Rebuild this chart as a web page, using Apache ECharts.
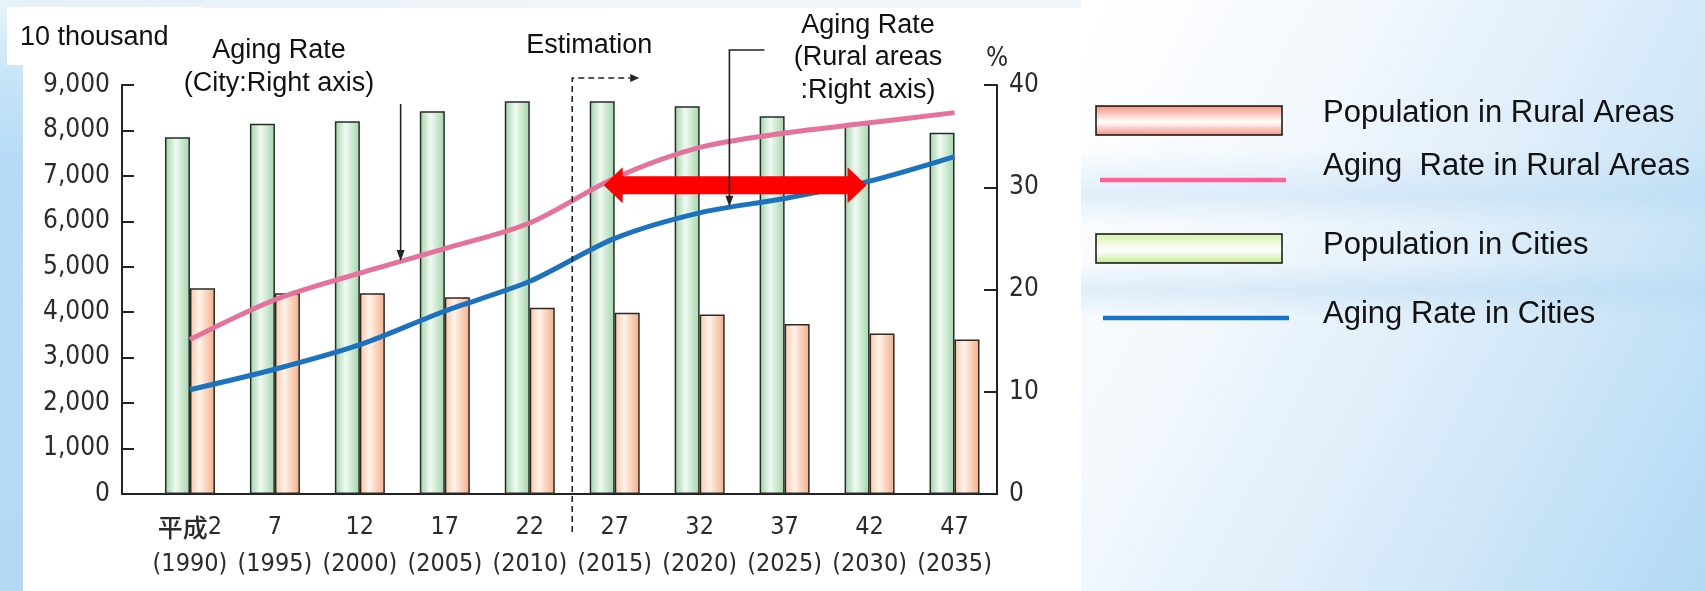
<!DOCTYPE html>
<html>
<head>
<meta charset="utf-8">
<script src="https://cdn.jsdelivr.net/npm/echarts@6/dist/echarts.min.js"></script>
<style>
  html, body { margin: 0; padding: 0; width: 1705px; height: 591px; overflow: hidden; }
  body { position: relative; background: #e9f3fb; }
  #bgTop { position: absolute; left: 0; top: 0; width: 1705px; height: 8px;
           background: linear-gradient(90deg, #e4f0fa 0%, #f1f6fa 40%, #eef4f9 100%); }
  #bgLeft { position: absolute; left: 0; top: 0; width: 23px; height: 591px;
            background: linear-gradient(180deg, #e8f3fb 0px, #c9e5f8 70px, #b6dbf6 160px, #b3d9f5 591px); }
  #bgRight { position: absolute; left: 1081px; top: 0; width: 624px; height: 591px;
             background:
               linear-gradient(180deg, rgba(255,255,255,0) 150px, rgba(175,213,242,0.35) 195px, rgba(255,255,255,0) 225px,
                               rgba(255,255,255,0) 262px, rgba(175,213,242,0.35) 290px, rgba(255,255,255,0) 318px),
               linear-gradient(118deg, #ffffff 0%, #f3f8fd 30%, #d9ebf9 62%, #b2d9f5 100%); }
  #panel { position: absolute; left: 23px; top: 8px; width: 1058px; height: 583px; background: #ffffff; }
  #unitBox { position: absolute; left: 7px; top: 7px; width: 196px; height: 58px; background: #ffffff; }
  #chart { position: absolute; left: 0; top: 0; width: 1705px; height: 591px; }
</style>
</head>
<body>
<div id="bgTop"></div>
<div id="bgLeft"></div>
<div id="bgRight"></div>
<div id="panel"></div>
<div id="unitBox"></div>
<div id="chart"></div>
<script>
// Japanese era year labels and the matching Western years
const eraYears = ['平成2', '7', '12', '17', '22', '27', '32', '37', '42', '47'];
const westernYears = ['1990', '1995', '2000', '2005', '2010', '2015', '2020', '2025', '2030', '2035'];

// Population (10 thousand people)
const cityPopulation  = [7850, 8150, 8200, 8420, 8640, 8640, 8530, 8310, 8150, 7950];
const ruralPopulation = [4530, 4420, 4420, 4330, 4100, 3990, 3950, 3740, 3530, 3400];

// Aging rate (%)
const ruralAgingRate = [15.1, 19.0, 21.6, 24.0, 26.5, 30.9, 33.9, 35.3, 36.3, 37.3];
const cityAgingRate  = [10.2, 12.2, 14.6, 17.9, 20.8, 25.0, 27.5, 28.9, 30.6, 33.0];

// Axis ranges
const populationAxis = { min: 0, max: 9000, interval: 1000 };
const rateAxis = { min: 0, max: 40, interval: 10 };

// First projected year (index) for the estimation divider
const estimationStart = 5;

const NARROW = "'Liberation Sans Narrow', 'Arial Narrow', 'DejaVu Sans Condensed', sans-serif";
const SANS = "'Liberation Sans', Arial, sans-serif";
const CJK = "'Noto Sans CJK JP', 'Noto Sans CJK SC', sans-serif";

const idx = eraYears.map((_, i) => i);
const pairs = (arr) => arr.map((v, i) => [i, v]);

const greenBar = {
  type: 'linear', x: 0, y: 0, x2: 1, y2: 0,
  colorStops: [
    { offset: 0, color: '#9cd2a5' },
    { offset: 0.42, color: '#f1faf2' },
    { offset: 1, color: '#a0d6a9' }
  ]
};
const orangeBar = {
  type: 'linear', x: 0, y: 0, x2: 1, y2: 0,
  colorStops: [
    { offset: 0, color: '#f9c6a5' },
    { offset: 0.38, color: '#fff3ea' },
    { offset: 1, color: '#f3ad85' }
  ]
};

const chart = echarts.init(document.getElementById('chart'), null, { renderer: 'canvas' });

chart.setOption({
  backgroundColor: 'transparent',
  animation: false,
  grid: { left: 122, right: 708, top: 85, bottom: 97, containLabel: false },
  xAxis: {
    type: 'value', min: -0.8, max: 9.5,
    axisLine: { show: true, onZero: false, lineStyle: { color: '#222', width: 2 } },
    axisTick: { show: false },
    splitLine: { show: false },
    axisLabel: {
      show: true,
      customValues: idx,
      margin: 15,
      color: '#2b2b2b',
      fontFamily: NARROW,
      fontSize: 25,
      lineHeight: 37,
      formatter: (v) => {
        const i = Math.round(v);
        if (Math.abs(v - i) > 1e-6 || i < 0 || i >= eraYears.length) return '';
        const era = eraYears[i];
        const top = era.startsWith('平成') ? '{cjk|平成}' + era.slice(2) : era;
        return top + '\n(' + westernYears[i] + ')';
      },
      rich: {
        cjk: { fontFamily: CJK, fontSize: 25, fontWeight: 500, lineHeight: 37, color: '#2b2b2b' }
      }
    }
  },
  yAxis: [
    {
      type: 'value', position: 'left',
      min: populationAxis.min, max: populationAxis.max, interval: populationAxis.interval,
      axisLine: { show: true, onZero: false, lineStyle: { color: '#222', width: 2 } },
      axisTick: { show: true, inside: true, length: 12, lineStyle: { color: '#222', width: 2 } },
      splitLine: { show: false },
      axisLabel: {
        margin: 12, color: '#2b2b2b', fontFamily: NARROW, fontSize: 26,
        formatter: (v) => v.toLocaleString('en-US')
      }
    },
    {
      type: 'value', position: 'right',
      min: rateAxis.min, max: rateAxis.max, interval: rateAxis.interval,
      name: '%', nameLocation: 'end', nameGap: 12,
      nameTextStyle: { color: '#2b2b2b', fontFamily: NARROW, fontSize: 26 },
      axisLine: { show: true, onZero: false, lineStyle: { color: '#222', width: 2 } },
      axisTick: { show: true, inside: true, length: 13, lineStyle: { color: '#222', width: 2 } },
      splitLine: { show: false },
      axisLabel: { margin: 12, color: '#2b2b2b', fontFamily: NARROW, fontSize: 26 }
    }
  ],
  series: [
    {
      name: 'Population in Cities', type: 'bar', yAxisIndex: 0,
      data: pairs(cityPopulation), barWidth: 25, barGap: '0%',
      itemStyle: { color: greenBar, borderColor: '#2a2a2a', borderWidth: 1.5 }
    },
    {
      name: 'Population in Rural Areas', type: 'bar', yAxisIndex: 0,
      data: pairs(ruralPopulation), barWidth: 25, barGap: '0%',
      itemStyle: { color: orangeBar, borderColor: '#2a2a2a', borderWidth: 1.5 }
    },
    {
      name: 'Aging Rate in Rural Areas', type: 'line', yAxisIndex: 1,
      data: pairs(ruralAgingRate), smooth: 0.3, showSymbol: false, z: 4,
      lineStyle: { color: '#e5729c', width: 5 }
    },
    {
      name: 'Aging Rate in Cities', type: 'line', yAxisIndex: 1,
      data: pairs(cityAgingRate), smooth: 0.3, showSymbol: false, z: 4,
      lineStyle: { color: '#1d72c0', width: 5 }
    }
  ]
});

// Pixel helpers through the chart's own axes
const onLeft = (x, y) => chart.convertToPixel({ seriesIndex: 0 }, [x, y]);
const onRight = (x, y) => chart.convertToPixel({ seriesIndex: 2 }, [x, y]);

const gTop = onLeft(0, populationAxis.max)[1];
const gBottom = onLeft(0, 0)[1];
const divX = onLeft(estimationStart - 0.5, 0)[0];

const ink = '#222';
const tri = (pts) => ({ type: 'polygon', shape: { points: pts }, style: { fill: ink }, z: 20 });
const seg = (pts, dash) => ({
  type: 'polyline', shape: { points: pts },
  style: { stroke: ink, lineWidth: 1.6, fill: null, lineDash: dash || null }, z: 20
});
const label = (text, x, y, size, align) => ({
  type: 'text', z: 21,
  style: { text, x, y, fill: '#111', fontFamily: SANS, fontSize: size,
           align: align || 'center', verticalAlign: 'middle' }
});

// Double-headed arrow at the 30% level: rural reaches it in 2015, cities in 2030
const arrowLevel = 30.2;
const arrowY = onRight(0, arrowLevel)[1];
const aL = onRight(5, arrowLevel)[0] - 11;
const aR = onRight(8, arrowLevel)[0] - 3;
const sh = 9, hh = 18, hl = 19;
const redArrow = {
  type: 'polygon', z: 15,
  shape: { points: [
    [aL, arrowY], [aL + hl, arrowY - hh], [aL + hl, arrowY - sh],
    [aR - hl, arrowY - sh], [aR - hl, arrowY - hh], [aR, arrowY],
    [aR - hl, arrowY + hh], [aR - hl, arrowY + sh], [aL + hl, arrowY + sh],
    [aL + hl, arrowY + hh]
  ] },
  style: { fill: '#ff0000' }
};

// Leader for the left callout
const lx = onLeft(2.48, 0)[0];
const lTip = onRight(2.48, 22.6)[1] - 2;
// Leader for the right callout
const rx = onLeft(6.35, 0)[0];
const rTip = onRight(6.35, 27.9)[1] - 2;

const dashTop = gTop - 7;

// Legend geometry
const LG = { boxX: 1096, boxW: 186, textX: 1323 };
const legendRect = (y, c1, c2, c3) => ({
  type: 'rect', z: 20,
  shape: { x: LG.boxX, y, width: LG.boxW, height: 29 },
  style: {
    fill: { type: 'linear', x: 0, y: 0, x2: 0, y2: 1,
            colorStops: [{ offset: 0, color: c1 }, { offset: 0.55, color: c2 }, { offset: 1, color: c3 }] },
    stroke: '#111', lineWidth: 1.5
  }
});
const legendLine = (x, y, color) => ({
  type: 'line', z: 20,
  shape: { x1: x, y1: y, x2: x + LG.boxW, y2: y },
  style: { stroke: color, lineWidth: 4.5 }
});

chart.setOption({
  graphic: [
    // unit of the left axis
    label('10 thousand', 20, 38, 27, 'left'),
    // left callout
    label('Aging Rate', 279, 51, 27),
    label('(City:Right axis)', 279, 84, 27),
    seg([[lx, 104], [lx, lTip - 10]]),
    tri([[lx - 4, lTip - 11], [lx + 4, lTip - 11], [lx, lTip]]),
    // estimation divider
    label('Estimation', divX + 17, 46, 27),
    seg([[divX, gBottom + 38], [divX, dashTop], [divX + 58, dashTop]], [6, 4]),
    tri([[divX + 58, dashTop - 4], [divX + 58, dashTop + 4], [divX + 67, dashTop]]),
    // right callout
    label('Aging Rate', 868, 26, 27),
    label('(Rural areas', 868, 58, 27),
    label(':Right axis)', 868, 91, 27),
    seg([[rx + 35, 50], [rx, 50], [rx, rTip - 10]]),
    tri([[rx - 4, rTip - 11], [rx + 4, rTip - 11], [rx, rTip]]),
    redArrow,
    // legend
    legendRect(106, '#f2917f', '#ffffff', '#f2917f'),
    label('Population in Rural Areas', LG.textX, 113, 31, 'left'),
    legendLine(1100, 180, '#ff6196'),
    label('Aging  Rate in Rural Areas', LG.textX, 166, 31, 'left'),
    legendRect(234, '#d3f2a8', '#ffffff', '#c4ea92'),
    label('Population in Cities', LG.textX, 245, 31, 'left'),
    legendLine(1103, 318, '#1874c6'),
    label('Aging Rate in Cities', LG.textX, 314, 31, 'left')
  ]
});
</script>
</body>
</html>
